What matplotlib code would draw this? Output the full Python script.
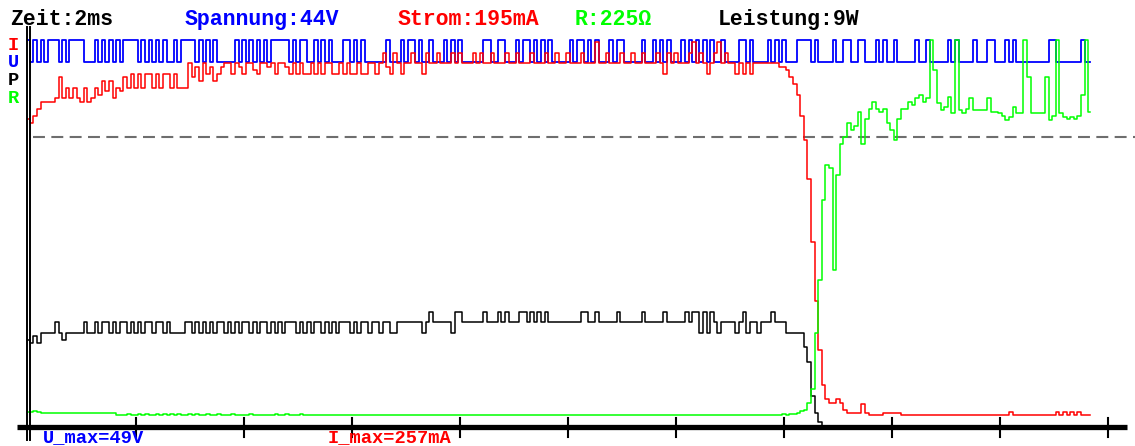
import matplotlib.pyplot as plt

# scope readouts
top_labels = ["Zeit:2ms", "Spannung:44V", "Strom:195mA", "R:225Ω", "Leistung:9W"]
top_colors = ["black", "#0000ff", "#ff0000", "#00ff00", "black"]
side_labels = ["I", "U", "P", "R"]
side_colors = ["#ff0000", "#0000ff", "black", "#00ff00"]
bottom_labels = ["U_max=49V", "I_max=257mA"]
bottom_colors = ["#0000ff", "#ff0000"]

# trace values in screen rows above the time axis, one per sample (30 samples per division)
U_bits = ("1010101110" "1011110001" "0101010111" "1010101010" "0101111010"
          "1010000010" "1010101011" "1110101100" "1010100011" "0101000000"
          "1000101101" "0010001010" "1000000110" "0110001011" "0101010000"
          "0101101010" "0010110000" "0100101010" "0010101010" "1001000011"
          "0100001010" "1000111101" "0000100110" "0110001010" "0100000100"
          "1000001010" "0001000110" "0010100000" "0000110000" "000100")
U_levels = [104.3, 110.6]

I_vals = [
    88, 87, 89, 91, 93, 93, 93, 93, 94, 100,
    94, 97, 94, 97, 94, 93, 97, 93, 94, 97,
    95, 99, 96, 99, 94, 97, 96, 100, 97, 101,
    97, 101, 97, 101, 101, 97, 101, 97, 101, 101,
    97, 101, 97, 97, 97, 104, 100, 103, 99, 104,
    101, 103, 99, 101, 103, 104, 104, 101, 104, 103,
    101, 104, 104, 102, 101, 104, 104, 103, 104, 101,
    104, 104, 103, 101, 104, 101, 104, 101, 101, 104,
    101, 104, 101, 104, 104, 101, 101, 104, 101, 104,
    101, 101, 104, 101, 101, 104, 104, 101, 104, 107,
    103, 101, 107, 104, 101, 104, 104, 107, 104, 104,
    101, 107, 104, 104, 107, 104, 104, 104, 107, 104,
    107, 104, 104, 104, 107, 104, 107, 104, 104, 107,
    104, 104, 104, 107, 104, 104, 107, 104, 104, 104,
    107, 104, 104, 104, 107, 104, 104, 107, 104, 104,
    107, 104, 104, 104, 107, 104, 104, 104, 110, 104,
    104, 107, 104, 104, 104, 107, 104, 104, 107, 104,
    104, 107, 104, 104, 104, 107, 104, 101, 107, 104,
    107, 104, 104, 104, 107, 110, 104, 107, 104, 101,
    104, 107, 110, 104, 107, 104, 104, 101, 104, 101,
    104, 101, 104, 104, 104, 104, 104, 104, 104, 103,
    103, 102, 100, 98, 95, 89, 82, 71, 53, 36,
    22, 12, 8, 7, 7, 8, 7, 5, 4, 4,
    4, 4, 6.5, 4, 3.4, 3.4, 3.4, 3.4, 4, 4,
    4, 4, 4, 3.4, 3.4, 3.4, 3.4, 3.4, 3.4, 3.4,
    3.4, 3.4, 3.4, 3.4, 3.4, 3.4, 3.4, 3.4, 3.4, 3.4,
    3.4, 3.4, 3.4, 3.4, 3.4, 3.4, 3.4, 3.4, 3.4, 3.4,
    3.4, 3.4, 3.4, 4.3, 3.4, 3.4, 3.4, 3.4, 3.4, 3.4,
    3.4, 3.4, 3.4, 3.4, 3.4, 3.4, 4.3, 3.4, 4.3, 3.4,
    4.3, 3.4, 4.3, 3.4, 3.4, 3.4,
]

P_vals = [
    25, 24, 26, 24, 27, 27, 27, 27, 30, 27,
    25, 27, 27, 27, 27, 27, 30, 27, 27, 30,
    27, 30, 30, 27, 30, 27, 30, 30, 27, 30,
    27, 30, 27, 30, 30, 27, 30, 30, 27, 30,
    27, 27, 27, 27, 30, 30, 27, 30, 27, 30,
    27, 30, 27, 30, 30, 27, 30, 27, 30, 27,
    30, 30, 27, 30, 27, 30, 30, 27, 30, 27,
    30, 27, 30, 30, 30, 27, 30, 27, 30, 27,
    30, 30, 27, 30, 27, 30, 27, 30, 30, 30,
    27, 30, 27, 30, 30, 27, 30, 30, 27, 30,
    30, 27, 27, 30, 30, 30, 30, 30, 30, 30,
    27, 30, 33, 30, 30, 30, 30, 30, 27, 33,
    33, 30, 30, 30, 30, 30, 30, 33, 30, 30,
    30, 33, 30, 33, 30, 30, 30, 33, 33, 30,
    33, 30, 33, 30, 33, 30, 30, 30, 30, 30,
    30, 30, 30, 30, 33, 33, 30, 30, 33, 30,
    30, 30, 30, 30, 33, 30, 30, 30, 30, 30,
    30, 33, 30, 30, 30, 30, 30, 33, 30, 30,
    30, 30, 30, 33, 30, 33, 33, 27, 33, 27,
    33, 30, 27, 30, 30, 30, 30, 27, 30, 33,
    27, 30, 30, 27, 30, 30, 30, 33, 30, 30,
    30, 27, 27, 27, 27, 27, 23, 18.5, 9, 4,
    1.5, 0,
]

R_vals = [
    4.3, 4.3, 4.6, 4.3, 4, 4, 4, 4, 4, 4,
    4, 4, 4, 4, 4, 4, 4, 4, 4, 4,
    4, 4, 4, 4, 4, 3.4, 3.4, 3.4, 3.7, 3.4,
    3.4, 3.7, 3.4, 3.7, 3.4, 3.4, 3.7, 3.4, 3.7, 3.4,
    3.7, 3.4, 3.7, 3.4, 3.4, 3.7, 3.4, 3.7, 3.4, 3.4,
    3.7, 3.4, 3.4, 3.7, 3.4, 3.4, 3.4, 3.7, 3.4, 3.4,
    3.4, 3.4, 3.7, 3.4, 3.4, 3.4, 3.4, 3.4, 3.4, 3.7,
    3.4, 3.4, 3.7, 3.4, 3.4, 3.4, 3.7, 3.4, 3.4, 3.3,
    3.3, 3.3, 3.3, 3.3, 3.3, 3.3, 3.3, 3.3, 3.3, 3.3,
    3.3, 3.3, 3.3, 3.3, 3.3, 3.3, 3.3, 3.3, 3.3, 3.3,
    3.3, 3.3, 3.3, 3.3, 3.3, 3.3, 3.3, 3.3, 3.3, 3.3,
    3.3, 3.3, 3.3, 3.3, 3.3, 3.3, 3.3, 3.3, 3.3, 3.3,
    3.3, 3.3, 3.3, 3.3, 3.3, 3.3, 3.3, 3.3, 3.3, 3.3,
    3.3, 3.3, 3.3, 3.3, 3.3, 3.3, 3.3, 3.3, 3.3, 3.3,
    3.3, 3.3, 3.3, 3.3, 3.3, 3.3, 3.3, 3.3, 3.3, 3.3,
    3.3, 3.3, 3.3, 3.3, 3.3, 3.3, 3.3, 3.3, 3.3, 3.3,
    3.3, 3.3, 3.3, 3.3, 3.3, 3.3, 3.3, 3.3, 3.3, 3.3,
    3.3, 3.3, 3.3, 3.3, 3.3, 3.3, 3.5, 3.3, 3.3, 3.3,
    3.3, 3.3, 3.3, 3.3, 3.3, 3.3, 3.3, 3.3, 3.3, 3.3,
    3.3, 3.3, 3.3, 3.3, 3.3, 3.3, 3.3, 3.3, 3.3, 3.3,
    3.3, 3.3, 3.3, 3.3, 3.3, 3.3, 3.3, 3.3, 3.3, 3.3,
    3.6, 3.3, 3.6, 3.6, 4, 4.5, 5, 7, 11, 27,
    42, 65, 75, 74, 45, 72, 81, 83, 87, 85,
    86, 90, 81, 88, 91, 93, 91, 90, 91, 87,
    85, 82, 88, 91, 91, 93, 92, 94, 95, 93,
    94, 110.6, 102, 92.6, 90.6, 91.5, 94.3, 89.7, 110.6, 90.6,
    89.7, 91, 94, 90.6, 90.6, 90.6, 90.6, 94, 90, 90,
    89.7, 89, 87.7, 88.5, 91.4, 89.7, 89.7, 110.6, 100, 89.7,
    89.7, 89.7, 89.7, 100, 87.7, 89, 110.6, 89.7, 88.5, 88,
    88.5, 88, 89, 95, 110.6, 90,
]

R_ref = 82.9          # dashed reference level
tick_step = 30        # samples per time division
n_div = 10

# ---- layout (pixel geometry of the scope screen) ----
W, H = 1135, 446
X0, DX = 28, 3.6      # px of sample 0, px per sample
Y0, DY = 427, 3.5     # px of the time axis, px per row


def px(x):
    return (x - X0) / DX


def py(y):
    return (Y0 - y) / DY


fig = plt.figure(figsize=(W / 100, H / 100), dpi=100)
ax = fig.add_axes([0, 0, 1, 1])
ax.set_xlim(px(0), px(W))
ax.set_ylim(py(H), py(0))
ax.axis("off")

U_vals = [U_levels[int(b)] for b in U_bits]
ax.plot(list(range(len(U_vals))), U_vals, color="#0000ff", lw=1.3, drawstyle="steps-mid", zorder=3)
ax.plot(list(range(len(P_vals))), P_vals, color="black", lw=1.1, drawstyle="steps-mid", zorder=4)
ax.plot(list(range(len(I_vals))), I_vals, color="#ff0000", lw=1.1, drawstyle="steps-mid", zorder=5)
ax.plot(list(range(len(R_vals))), R_vals, color="#00ff00", lw=1.1, drawstyle="steps-mid", zorder=6)

plt.rcParams["lines.scale_dashes"] = False
ax.plot([px(33), px(W)], [R_ref, R_ref], color="#6e6e6e", lw=1.5,
        linestyle=(0, (8.6, 4.6)), zorder=2)

# axes of the scope
ax.plot([px(17), px(1127)], [0, 0], color="black", lw=3.8, solid_capstyle="butt", zorder=7)
for xv in (26.8, 30.3):
    ax.plot([px(xv), px(xv)], [py(27), py(440)], color="black", lw=1.4, zorder=8)
for k in range(1, n_div + 1):
    ax.plot([k * tick_step, k * tick_step], [py(418), py(437)], color="black", lw=1.5, zorder=7)

font = dict(family="Liberation Mono", weight="bold")
top_x = [10, 185, 398, 575, 718]
for s, c, x in zip(top_labels, top_colors, top_x):
    fig.text(x / W, 1 - 25 / H, s, color=c, va="baseline", ha="left", fontsize=15.5, **font)

side_y = [50, 67, 85, 103]
for s, c, y in zip(side_labels, side_colors, side_y):
    fig.text(8 / W, 1 - y / H, s, color=c, va="baseline", ha="left", fontsize=13.5, **font)

bottom_x = [43, 328]
for s, c, x in zip(bottom_labels, bottom_colors, bottom_x):
    fig.text(x / W, 1 - 442 / H, s, color=c, va="baseline", ha="left", fontsize=13.5, **font)

fig.savefig("out.png", dpi=100, facecolor="white")
